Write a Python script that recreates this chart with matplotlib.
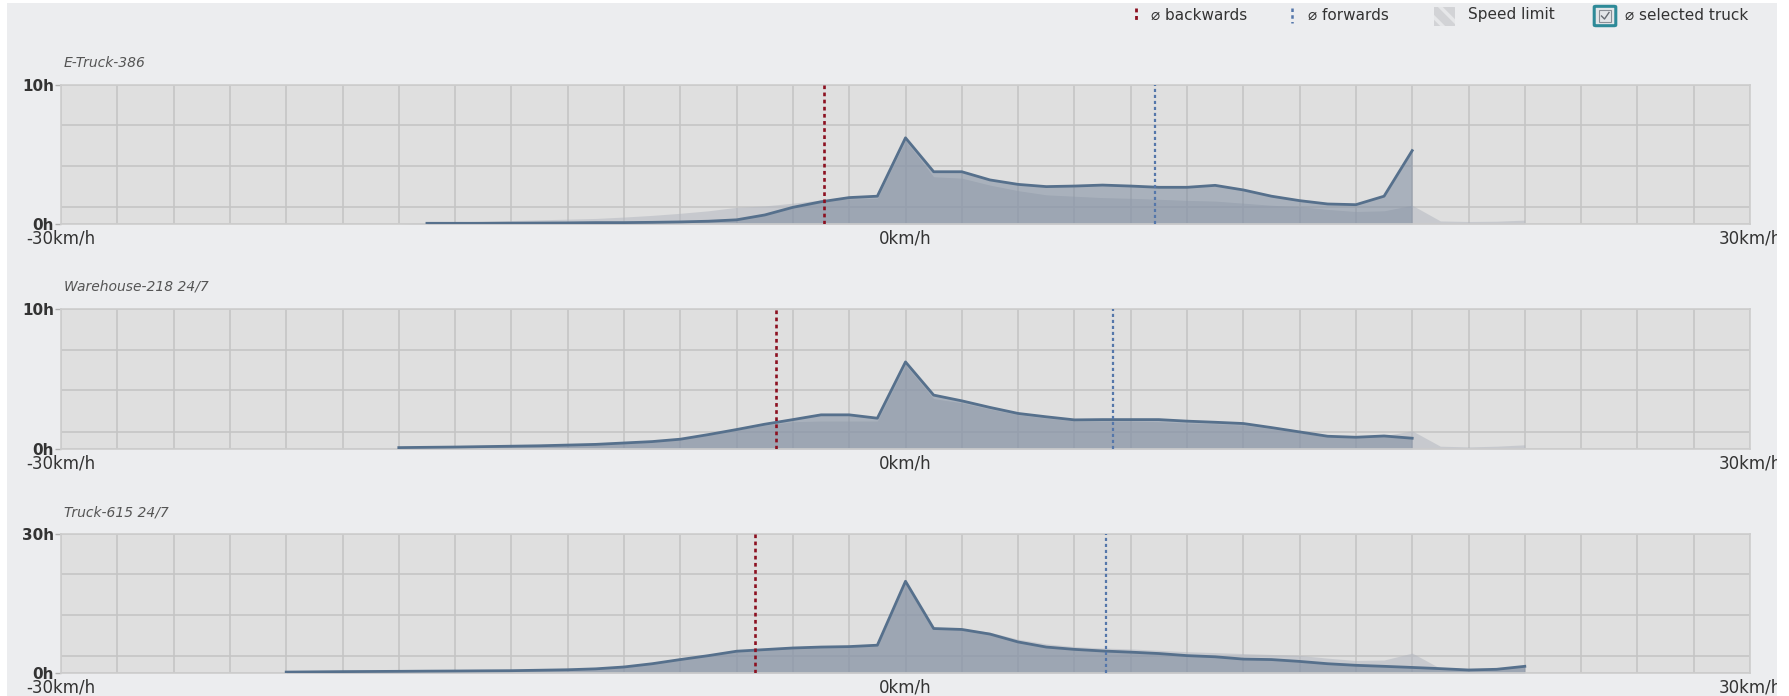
import matplotlib.pyplot as plt
from matplotlib.patches import Rectangle, FancyBboxPatch
from matplotlib.lines import Line2D

plt.rcParams['font.family'] = ['DejaVu Sans']

# chart data (hours per speed bucket, km/h)
truck_names = ['E-Truck-386', 'Warehouse-218 24/7', 'Truck-615 24/7']
y_max = [10, 10, 30]

truck_speeds = [list(range(-17, 19)), list(range(-18, 19)), list(range(-22, 23))]
fleet_speeds = [list(range(-18, 23)), list(range(-22, 23)), list(range(-22, 23))]

truck_hours_1 = [0.05, 0.05, 0.05, 0.06, 0.07, 0.08, 0.1,
                 0.1, 0.12, 0.15, 0.2, 0.3, 0.65, 1.2, 1.6, 1.9, 2.0,
                 6.2, 3.76, 3.76, 3.17, 2.85, 2.69, 2.73, 2.8, 2.73, 2.64, 2.64,
                 2.78, 2.45, 2.0, 1.68, 1.44, 1.39, 2.0, 5.28]
fleet_hours_1 = [0.0, 0.1, 0.15, 0.2, 0.25, 0.3, 0.35, 0.4, 0.5, 0.62, 0.77, 0.95,
                 1.2, 1.3, 1.5, 1.73, 1.8, 1.85,
                 6.0, 3.4, 3.3, 2.8, 2.4, 2.1, 2.0, 1.9, 1.85, 1.78, 1.7, 1.65,
                 1.5, 1.35, 1.25, 1.05, 0.9, 0.95, 1.35, 0.22, 0.18, 0.2, 0.28]

truck_hours_2 = [0.1, 0.12, 0.14, 0.17, 0.2, 0.23, 0.28, 0.33,
                 0.43, 0.53, 0.7, 1.03, 1.39, 1.77, 2.1, 2.44, 2.44, 2.2,
                 6.22, 3.85, 3.44, 2.97, 2.54, 2.3, 2.08, 2.1, 2.1, 2.1, 1.99,
                 1.91, 1.82, 1.53, 1.22, 0.91, 0.84, 0.93, 0.77]
fleet_hours_2 = [0.0, 0.02, 0.04, 0.06, 0.08, 0.1, 0.12, 0.15, 0.18, 0.22, 0.26, 0.32,
                 0.4, 0.5, 0.68, 1.0, 1.35, 1.7, 1.95, 2.0, 2.0, 2.0,
                 6.0, 3.6, 3.3, 2.85, 2.45, 2.2, 2.0, 2.0, 2.0, 1.95, 1.85, 1.8,
                 1.7, 1.45, 1.15, 0.88, 0.85, 0.95, 1.3, 0.2, 0.15, 0.2, 0.3]

truck_hours_3 = [0.2, 0.25, 0.3, 0.33, 0.36, 0.4, 0.43, 0.47, 0.5, 0.6, 0.7, 0.9,
                 1.3, 2.0, 2.9, 3.75, 4.7, 5.05, 5.4, 5.6, 5.7, 6.0,
                 19.8, 9.6, 9.4, 8.4, 6.7, 5.6, 5.1, 4.75, 4.5, 4.2, 3.75, 3.5,
                 3.0, 2.9, 2.5, 2.0, 1.66, 1.44, 1.2, 0.94, 0.65, 0.8, 1.44]
fleet_hours_3 = [0.2, 0.25, 0.3, 0.33, 0.36, 0.4, 0.43, 0.47, 0.5, 0.6, 0.7, 0.9,
                 1.3, 2.0, 2.9, 3.85, 4.8, 5.15, 5.5, 5.7, 5.8, 6.0,
                 19.5, 9.8, 9.6, 8.8, 7.3, 6.3, 5.7, 5.4, 5.2, 4.9, 4.6, 4.4,
                 4.2, 4.0, 3.8, 3.2, 2.7, 2.8, 4.3, 1.0, 0.65, 0.8, 1.4]

truck_hours = [truck_hours_1, truck_hours_2, truck_hours_3]
fleet_hours = [fleet_hours_1, fleet_hours_2, fleet_hours_3]

avg_backwards = [-2.88, -4.59, -5.35]
avg_forwards = [8.88, 7.37, 7.12]

x_ticks = [-30, 0, 30]
x_tick_labels = ['-30km/h', '0km/h', '30km/h']

W, H = 1789, 696
fig = plt.figure(figsize=(W / 100, H / 100), dpi=100)
fig.patch.set_facecolor('white')


def fx(x):
    return x / W


def fy(y):
    return 1 - y / H


# page background (leaves a thin white border like the screenshot)
page = Rectangle((fx(7), 0), fx(1777) - fx(7), fy(3), transform=fig.transFigure,
                 facecolor='#ecedef', edgecolor='none', zorder=-10)
fig.patches.append(page)
# white strip on the right that cuts off the last label, as in the screenshot
cover = Rectangle((fx(1777), 0), 1 - fx(1777), 1, transform=fig.transFigure,
                  facecolor='white', edgecolor='none', zorder=20)
fig.patches.append(cover)

tops = [85, 309, 534]
bottoms = [224, 449, 673]
left_px, right_px = 61, 1750
dots = (0, (1.4, 1.3))

for i in range(3):
    ax = fig.add_axes([fx(left_px), fy(bottoms[i]), fx(right_px) - fx(left_px),
                       (bottoms[i] - tops[i]) / H])
    ax.set_facecolor('#dfdfdf')
    ax.set_xlim(-30, 30)
    ax.set_ylim(0, y_max[i])
    ax.set_axisbelow(True)

    # grid
    ax.set_xticks(x_ticks)
    ax.set_xticklabels([])
    ax.set_xticks(range(-30, 31, 2), minor=True)
    ax.set_yticks([0, y_max[i]])
    ax.set_yticklabels(['0h', f'{y_max[i]}h'], fontsize=11, fontweight='bold', color='#333333')
    ax.set_yticks([y_max[i] * f for f in (0.125, 0.42, 0.71)], minor=True)
    ax.grid(which='both', color='#c5c5c5', linewidth=1.2)
    ax.tick_params(axis='x', which='both', length=0)
    ax.tick_params(axis='y', which='major', length=4, width=1, color='#b0b0b0', pad=1)
    ax.tick_params(axis='y', which='minor', length=0)
    for s in ax.spines.values():
        s.set_color('#cdcdcd')
        s.set_linewidth(1.2)

    # areas
    ax.fill_between(fleet_speeds[i], 0, fleet_hours[i], color='#b4b8c0', alpha=0.55,
                    linewidth=0, zorder=1)
    ax.fill_between(truck_speeds[i], 0, truck_hours[i], color='#6e7f96', alpha=0.47,
                    linewidth=0, zorder=2)
    ax.plot(truck_speeds[i], truck_hours[i], color='#56708c', linewidth=2, zorder=3)

    # averages
    ax.axvline(avg_backwards[i], color='#8c1020', linewidth=1.9, linestyle=dots, zorder=4)
    ax.axvline(avg_forwards[i], color='#5577aa', linewidth=1.6, linestyle=dots, zorder=4)

    # x labels
    for xv, lab in zip(x_ticks, x_tick_labels):
        ax.annotate(lab, xy=(xv, 0), xycoords=('data', 'axes fraction'),
                    xytext=(0, -4), textcoords='offset points',
                    ha='center', va='top', fontsize=12, color='#333333',
                    annotation_clip=False)

    fig.text(fx(64), fy(tops[i] - 22), truck_names[i], fontsize=10, style='italic',
             color='#555555', va='center', ha='left')

# legend
fig.add_artist(Line2D([fx(1136), fx(1136)], [fy(8), fy(23)], color='#8c1020',
                      linewidth=2, linestyle=dots))
fig.text(fx(1151), fy(15), '⌀ backwards', fontsize=11, color='#333333', va='center')
fig.add_artist(Line2D([fx(1292), fx(1292)], [fy(8), fy(23)], color='#5577aa',
                      linewidth=1.8, linestyle=dots))
fig.text(fx(1308), fy(15), '⌀ forwards', fontsize=11, color='#333333', va='center')

plt.rcParams['hatch.linewidth'] = 2.5
hatch = Rectangle((fx(1434), fy(26)), fx(1455) - fx(1434), fy(7) - fy(26),
                  transform=fig.transFigure, facecolor='#d2d3d6', edgecolor='#e6e7e9',
                  hatch='\\\\', linewidth=0)
fig.patches.append(hatch)
fig.text(fx(1468), fy(15), 'Speed limit', fontsize=11, color='#333333', va='center')

box = FancyBboxPatch((fx(1596), fy(25)), fx(1614) - fx(1596), fy(7) - fy(25),
                     boxstyle='round,pad=0.001', transform=fig.transFigure,
                     facecolor='#e2e5e8', edgecolor='#2e8a98', linewidth=2.2)
fig.patches.append(box)
inner = Rectangle((fx(1599), fy(22)), fx(1611) - fx(1599), fy(10) - fy(22),
                  transform=fig.transFigure, facecolor='none', edgecolor='#8a8f96',
                  linewidth=0.8)
fig.patches.append(inner)
fig.add_artist(Line2D([fx(1601.5), fx(1604.5), fx(1609)], [fy(16), fy(19), fy(12.5)],
                      color='#666b72', linewidth=1.0))
fig.text(fx(1625), fy(15), '⌀ selected truck', fontsize=11, color='#333333', va='center')

fig.savefig('out.png', dpi=100, facecolor=fig.get_facecolor())
